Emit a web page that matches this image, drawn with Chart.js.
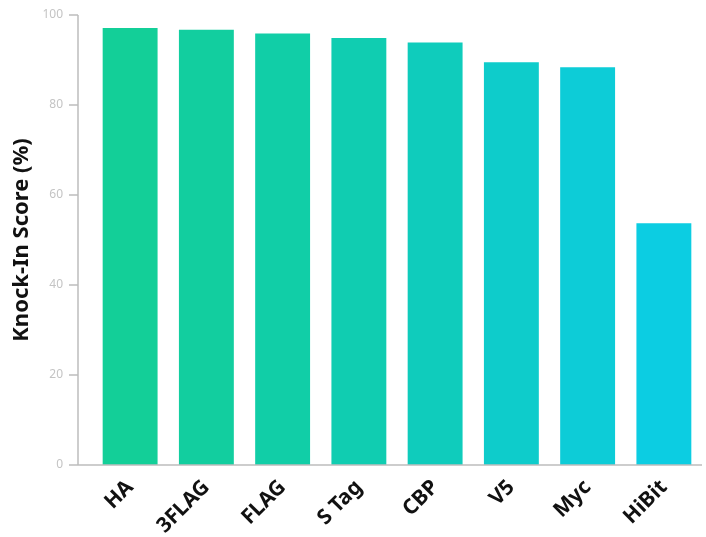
<!DOCTYPE html>
<html>
<head>
<meta charset="utf-8">
<script src="https://cdn.jsdelivr.net/npm/chart.js@4.4.0/dist/chart.umd.min.js"></script>
<style>
    html, body { margin: 0; padding: 0; background: #fff; }
    #wrap { width: 706px; height: 537px; }
</style>
</head>
<body>
<div id="wrap"><canvas id="barChart"></canvas></div>
<script>
    const tags = ["HA", "3FLAG", "FLAG", "S Tag", "CBP", "V5", "Myc", "HiBit"];
    const scores = [97.1, 96.7, 95.9, 94.9, 93.9, 89.5, 88.4, 53.7];
    const yTicks = [0, 20, 40, 60, 80, 100];

    const barColors = ["#13cf98", "#12ce9f", "#11cea7", "#10cdb1", "#0fccbc", "#0ecccb", "#0dccd7", "#0ccde2"];

    // axis line + tick marks sit a bit left of the first bar, like the original
    const axisLines = {
        id: 'axisLines',
        afterDraw(chart) {
            const ctx = chart.ctx;
            const y = chart.scales.y;
            const area = chart.chartArea;
            const axisX = area.left - 14;
            ctx.save();
            ctx.strokeStyle = "#bdbdbd";
            ctx.lineWidth = 1.5;
            ctx.beginPath();
            ctx.moveTo(axisX, y.getPixelForValue(100));
            ctx.lineTo(axisX, y.getPixelForValue(0));
            ctx.lineTo(area.right, y.getPixelForValue(0));
            yTicks.forEach(v => {
                const py = y.getPixelForValue(v);
                ctx.moveTo(axisX - 9, py);
                ctx.lineTo(axisX, py);
            });
            ctx.stroke();
            ctx.restore();
        }
    };

    new Chart(document.getElementById("barChart"), {
        type: 'bar',
        data: {
            labels: tags,
            datasets: [{
                data: scores,
                backgroundColor: barColors,
                borderWidth: 0,
                barPercentage: 0.72,
                categoryPercentage: 1.0
            }]
        },
        options: {
            responsive: true,
            maintainAspectRatio: false,
            animation: false,
            layout: { padding: { top: 15, right: 4, left: 0, bottom: 0 } },
            plugins: {
                legend: { display: false },
                tooltip: { enabled: false }
            },
            scales: {
                x: {
                    grid: { display: false, drawTicks: false },
                    border: { display: false },
                    ticks: {
                        color: "#111",
                        font: { family: "Noto Sans", size: 21, weight: "bold" },
                        minRotation: 45,
                        maxRotation: 45,
                        padding: 10
                    },
                    afterFit(scale) { scale.height = 72; }
                },
                y: {
                    min: 0,
                    max: 100,
                    grid: { display: false, drawTicks: false },
                    border: { display: false },
                    afterBuildTicks(scale) { scale.ticks = yTicks.map(v => ({ value: v })); },
                    ticks: {
                        color: "#c4c4c4",
                        font: { family: "Noto Sans", size: 12 },
                        padding: 29
                    },
                    title: {
                        display: true,
                        text: "Knock-In Score (%)",
                        color: "#111",
                        font: { family: "Noto Sans", size: 22, weight: "bold" },
                        padding: { top: 9, bottom: 0 }
                    },
                    afterFit(scale) {
                        scale.width = 92;
                        // tick padding would otherwise push the plot area down
                        scale.paddingTop = 0;
                        scale.paddingBottom = 0;
                    }
                }
            }
        },
        plugins: [axisLines]
    });
</script>
</body>
</html>
